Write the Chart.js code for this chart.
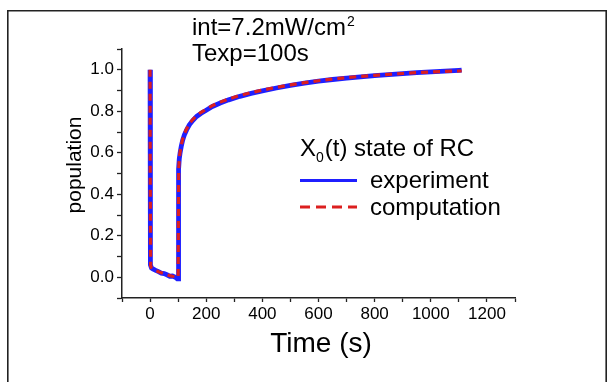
<!DOCTYPE html>
<html>
<head>
<meta charset="utf-8">
<script src="https://cdn.jsdelivr.net/npm/chart.js@4.4.1/dist/chart.umd.min.js"></script>
<style>
  html, body { margin: 0; padding: 0; background: #fff; }
  #wrap { position: relative; width: 610px; height: 382px; }
</style>
</head>
<body>
<div id="wrap"><canvas id="c" width="610" height="382"></canvas></div>
<script>
// ---- data ----
const times = [0, 0.5, 2, 5, 10, 20, 30, 40, 50, 60, 70, 80, 90, 97, 100, 101, 102, 104, 107, 111, 116, 122, 130, 140, 152, 166, 182, 200, 222, 250, 280, 320, 360, 400, 450, 500, 550, 600, 650, 700, 750, 800, 850, 900, 950, 1000, 1050, 1100, 1110];
const experiment = [1.0, 0.5, 0.06, 0.045, 0.04, 0.033, 0.027, 0.02, 0.018, 0.012, 0.005, 0.006, 0.0, -0.008, -0.008, 0.3, 0.52, 0.57, 0.60, 0.63, 0.66, 0.685, 0.71, 0.735, 0.755, 0.775, 0.79, 0.805, 0.823, 0.84, 0.855, 0.872, 0.886, 0.898, 0.912, 0.925, 0.935, 0.945, 0.953, 0.96, 0.966, 0.972, 0.977, 0.981, 0.986, 0.99, 0.993, 0.997, 0.998];
const computation = [1.0, 0.5, 0.055, 0.045, 0.04, 0.033, 0.027, 0.022, 0.017, 0.012, 0.008, 0.005, 0.003, 0.001, 0.0, 0.3, 0.52, 0.57, 0.605, 0.635, 0.665, 0.69, 0.715, 0.74, 0.76, 0.78, 0.795, 0.81, 0.827, 0.844, 0.859, 0.876, 0.89, 0.902, 0.915, 0.927, 0.938, 0.947, 0.955, 0.962, 0.968, 0.973, 0.978, 0.982, 0.986, 0.989, 0.992, 0.994, 0.994];
const xTickValues = [-100, 0, 100, 200, 300, 400, 500, 600, 700, 800, 900, 1000, 1100, 1200, 1300];
const xTickLabels = ['', '0', '', '200', '', '400', '', '600', '', '800', '', '1000', '', '1200', ''];
const yTickTenths = [-1, 0, 1, 2, 3, 4, 5, 6, 7, 8, 9, 10, 11];
const yTickLabels = ['', '0.0', '', '0.2', '', '0.4', '', '0.6', '', '0.8', '', '1.0', ''];
const seriesNames = ['experiment', 'computation'];
const xTitle = 'Time (s)';
const yTitle = 'population';
const noteLine1 = 'int=7.2mW/cm';
const noteSup = '2';
const noteLine2 = 'Texp=100s';
const legendTitleMain = 'X';
const legendTitleSub = '0';
const legendTitleRest = '(t) state of RC';

const FONT = '"Liberation Sans", Arial, sans-serif';
const BLUE = '#1f1fff';
const RED = '#dc1f1f';

const toPts = (xs, ys) => xs.map((x, i) => ({x: x, y: ys[i]}));

const decor = {
  id: 'decor',
  afterDraw(chart) {
    const ctx = chart.ctx;
    ctx.save();
    // outer frame
    ctx.strokeStyle = '#222';
    ctx.lineWidth = 1.6;
    ctx.beginPath();
    ctx.moveTo(7.8, 400);
    ctx.lineTo(7.8, 10.8);
    ctx.lineTo(606.2, 10.8);
    ctx.lineTo(606.2, 400);
    ctx.stroke();

    ctx.fillStyle = '#000';
    ctx.textBaseline = 'alphabetic';
    ctx.textAlign = 'left';
    // annotation
    ctx.font = '24px ' + FONT;
    ctx.fillText(noteLine1, 192, 35);
    const w1 = ctx.measureText(noteLine1).width;
    ctx.font = '14px ' + FONT;
    ctx.fillText(noteSup, 192 + w1 + 1, 26);
    ctx.font = '24px ' + FONT;
    ctx.fillText(noteLine2, 192, 60.5);

    // legend
    ctx.font = '24px ' + FONT;
    ctx.fillText(legendTitleMain, 300, 156);
    let x = 300 + ctx.measureText(legendTitleMain).width;
    ctx.font = '14px ' + FONT;
    ctx.fillText(legendTitleSub, x, 162);
    x += ctx.measureText(legendTitleSub).width + 1;
    ctx.font = '24px ' + FONT;
    ctx.fillText(legendTitleRest, x, 156);

    ctx.lineWidth = 3;
    ctx.strokeStyle = BLUE;
    ctx.setLineDash([]);
    ctx.beginPath(); ctx.moveTo(300, 180.5); ctx.lineTo(357, 180.5); ctx.stroke();
    ctx.strokeStyle = RED;
    ctx.setLineDash([10, 6]);
    ctx.beginPath(); ctx.moveTo(300, 207); ctx.lineTo(357, 207); ctx.stroke();
    ctx.setLineDash([]);
    ctx.fillStyle = '#000';
    ctx.font = '24px ' + FONT;
    ctx.fillText(seriesNames[0], 370, 188);
    ctx.fillText(seriesNames[1], 370, 215);

    // axis titles
    ctx.font = '28px ' + FONT;
    ctx.textAlign = 'center';
    ctx.fillText(xTitle, 321, 352);
    ctx.save();
    ctx.translate(81, 165);
    ctx.rotate(-Math.PI / 2);
    ctx.font = '21px ' + FONT;
    ctx.fillText(yTitle, 0, 0);
    ctx.restore();
    ctx.restore();
  }
};

new Chart(document.getElementById('c'), {
  type: 'line',
  data: {
    datasets: [
      {
        label: seriesNames[0],
        data: toPts(times, experiment),
        borderColor: BLUE,
        borderWidth: 4.8,
        pointRadius: 0,
        tension: 0,
        order: 2
      },
      {
        label: seriesNames[1],
        data: toPts(times, computation),
        borderColor: RED,
        borderWidth: 3.2,
        borderDash: [7, 5],
        pointRadius: 0,
        tension: 0,
        order: 1
      }
    ]
  },
  options: {
    responsive: false,
    animation: false,
    devicePixelRatio: 1,
    layout: { padding: { left: 0, top: 49, right: 95, bottom: 0 } },
    plugins: { legend: { display: false }, tooltip: { enabled: false } },
    scales: {
      x: {
        type: 'linear',
        min: -100,
        max: 1300,
        afterBuildTicks: (s) => { s.ticks = xTickValues.map(v => ({value: v})); },
        afterFit: (s) => { s.height = 84; },
        ticks: {
          autoSkip: false,
          maxRotation: 0,
          padding: 2,
          color: '#000',
          font: { family: FONT, size: 17 },
          callback: (v) => { const i = xTickValues.indexOf(v); return i >= 0 ? xTickLabels[i] : ''; }
        },
        grid: { display: true, drawOnChartArea: false, drawTicks: true, tickLength: 4, tickColor: '#222', tickWidth: 1.3 },
        border: { display: true, color: '#222', width: 1.5 }
      },
      y: {
        type: 'linear',
        min: -0.1,
        max: 1.1,
        afterBuildTicks: (s) => { s.ticks = yTickTenths.map(v => ({value: v / 10})); },
        afterFit: (s) => { s.width = 122; },
        ticks: {
          autoSkip: false,
          padding: 3,
          color: '#000',
          font: { family: FONT, size: 17 },
          callback: (v) => { const i = yTickTenths.indexOf(Math.round(v * 10)); return i >= 0 ? yTickLabels[i] : ''; }
        },
        grid: { display: true, drawOnChartArea: false, drawTicks: true, tickLength: 5, tickColor: '#222', tickWidth: 1.3 },
        border: { display: true, color: '#222', width: 1.5 }
      }
    }
  },
  plugins: [decor]
});
</script>
</body>
</html>
